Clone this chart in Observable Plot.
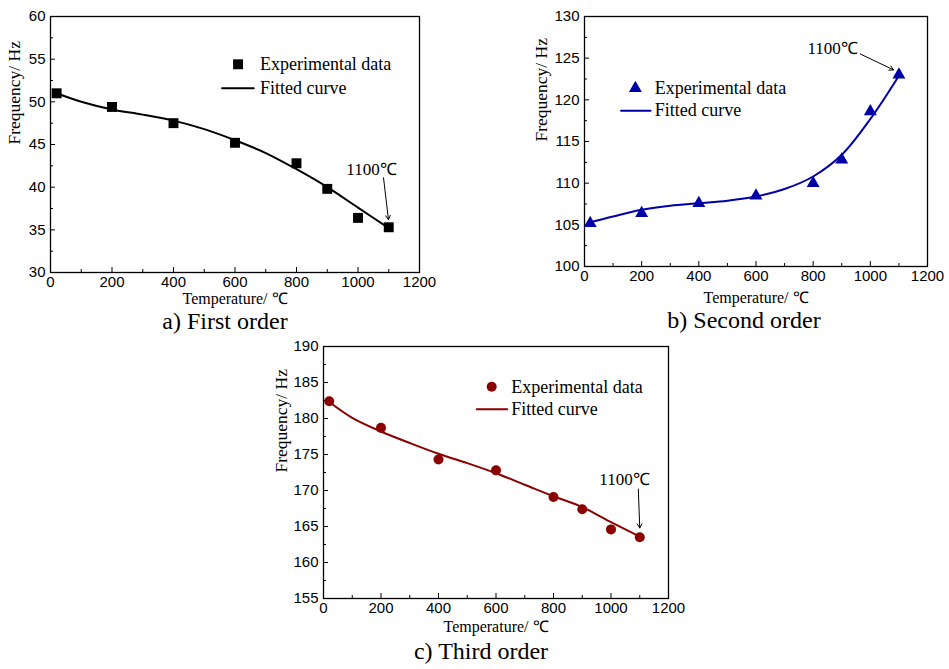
<!DOCTYPE html>
<html><head><meta charset="utf-8">
<script src="https://cdn.jsdelivr.net/npm/d3@7"></script>
<script src="https://cdn.jsdelivr.net/npm/@observablehq/plot@0.6"></script>
<style>
body{margin:0;background:#fff}
#wrap{position:relative;width:949px;height:669px;background:#fff;overflow:hidden}
#wrap svg{position:absolute;background:transparent}
</style></head>
<body><div id="wrap"></div>
<script>
// ---- data ----
const temps = [20, 200, 400, 600, 800, 900, 1000, 1100];
const freq1 = [51.0, 49.4, 47.5, 45.2, 42.8, 39.8, 36.4, 35.3];
const freq2 = [105.2, 106.4, 107.6, 108.5, 110.0, 112.8, 118.6, 123.0];
const freq3 = [182.4, 178.7, 174.3, 172.8, 169.1, 167.4, 164.6, 163.5];
const fitT = [20, 100, 200, 300, 400, 500, 600, 700, 800, 900, 1000, 1100];
const fit1 = [51.0, 50.0, 49.1, 48.5, 47.8, 46.8, 45.5, 44.0, 42.1, 40.0, 37.6, 35.2];
const fit2 = [105.3, 106.0, 106.8, 107.3, 107.6, 107.9, 108.4, 109.3, 110.8, 113.4, 117.7, 122.9];
const fit3 = [182.3, 180.1, 178.2, 176.6, 175.1, 173.8, 172.4, 170.8, 169.2, 167.7, 165.6, 163.6];
const xTicks = [0, 200, 400, 600, 800, 1000, 1200];
const xMinor = [100, 300, 500, 700, 900, 1100];
const yTicks1 = [30, 35, 40, 45, 50, 55, 60];
const yTicks2 = [100, 105, 110, 115, 120, 125, 130];
const yTicks3 = [155, 160, 165, 170, 175, 180, 185, 190];
const captions = ["a) First order", "b) Second order", "c) Third order"];
const xTitle = "Temperature/ ℃";
const yTitle = "Frequency/ Hz";
const legendLabels = ["Experimental data", "Fitted curve"];
const annotLabel = "1100℃";
// annotation anchors (data coords): text x, text y, arrow x1, y1, x2, y2
const annot1 = [1044, 42.1, 1083, 41.1, 1099, 36.2];
const annot2 = [868, 126.1, 965, 125.5, 1081, 123.6];
const annot3 = [1047, 171.5, 1095, 170.2, 1100, 164.8];
// legend anchors (data coords): marker x, marker y, text x, line x1, line x2, line y
const leg1 = [610, 54.4, 681, 558, 661, 51.6];
const leg2 = [178, 121.4, 246, 128, 231, 118.7];
const leg3 = [585, 184.4, 653, 533, 639, 181.3];

const serif = "'Liberation Serif', 'Times New Roman', serif";
const sans = "'Liberation Sans', Arial, sans-serif";

function minorOf(ticks) {
  const out = [];
  for (let i = 0; i < ticks.length - 1; i++) out.push((ticks[i] + ticks[i + 1]) / 2);
  return out;
}

function panel(cfg) {
  const fw = cfg.width - cfg.ml - cfg.mr;
  const fh = cfg.height - cfg.mt - cfg.mb;
  const pts = temps.map((t, i) => ({t, f: cfg.freq[i]}));
  const fit = fitT.map((t, i) => ({t, f: cfg.fit[i]}));
  const L = cfg.leg, A = cfg.annot;
  const yDomain = [cfg.yTicks[0], cfg.yTicks[cfg.yTicks.length - 1]];
  const st = {fontFamily: serif, fill: "black"};
  const svg = Plot.plot({
    width: cfg.width, height: cfg.height,
    marginLeft: cfg.ml, marginRight: cfg.mr, marginTop: cfg.mt, marginBottom: cfg.mb,
    x: {domain: [0, 1200]},
    y: {domain: yDomain},
    style: {fontFamily: sans, fontSize: "15px", color: "black", background: "transparent", overflow: "visible"},
    marks: [
      Plot.axisX({ticks: xTicks, tickFormat: d3.format("d"), tickSize: 0, tickPadding: 4, label: null, fontSize: 15, fontFamily: sans}),
      Plot.axisY({ticks: cfg.yTicks, tickFormat: d3.format("d"), tickSize: 0, tickPadding: 5, label: null, fontSize: 15, fontFamily: sans}),
      Plot.ruleX(xTicks.slice(1, -1), {insetTop: fh - 5, stroke: "black", strokeWidth: 1}),
      Plot.ruleX(xMinor, {insetTop: fh - 3, stroke: "black", strokeWidth: 1}),
      Plot.ruleY(cfg.yTicks.slice(1, -1), {insetRight: fw - 5, stroke: "black", strokeWidth: 1}),
      Plot.ruleY(minorOf(cfg.yTicks), {insetRight: fw - 3, stroke: "black", strokeWidth: 1}),
      Plot.frame({stroke: "black", strokeWidth: 1.3}),
      Plot.line(fit, {x: "t", y: "f", stroke: cfg.color, strokeWidth: 2, curve: "catmull-rom"}),
      Plot.dot(pts, {x: "t", y: "f", symbol: cfg.symbol, fill: cfg.color, stroke: "none", r: cfg.r}),
      // legend
      Plot.dot([{x: L[0], y: L[1]}], {x: "x", y: "y", symbol: cfg.symbol, fill: cfg.color, stroke: "none", r: cfg.r}),
      Plot.text([legendLabels[0]], {x: L[2], y: L[1], textAnchor: "start", fontSize: 18, ...st}),
      Plot.line([{x: L[3], y: L[5]}, {x: L[4], y: L[5]}], {x: "x", y: "y", stroke: cfg.color, strokeWidth: 2}),
      Plot.text([legendLabels[1]], {x: L[2], y: L[5], textAnchor: "start", fontSize: 18, ...st}),
      // annotation
      Plot.text([annotLabel], {x: A[0], y: A[1], fontSize: 17, ...st}),
      Plot.arrow([{x1: A[2], y1: A[3], x2: A[4], y2: A[5]}], {x1: "x1", y1: "y1", x2: "x2", y2: "y2", stroke: "black", strokeWidth: 1, headLength: 7}),
      // titles
      Plot.text([xTitle], {frameAnchor: "bottom", dy: cfg.xtDy, fontSize: 16, ...st}),
      Plot.text([yTitle], {frameAnchor: "left", dx: cfg.ytDx, rotate: -90, fontSize: 17.5, ...st}),
      Plot.text([cfg.caption], {frameAnchor: "bottom", dy: cfg.capDy, dx: cfg.capDx, fontSize: 24, ...st})
    ]
  });
  svg.style.left = cfg.left + "px";
  svg.style.top = cfg.top + "px";
  return svg;
}

const wrap = document.getElementById("wrap");
wrap.appendChild(panel({
  left: 0, top: 0, width: 440, height: 340, ml: 50, mr: 21, mt: 16, mb: 68,
  freq: freq1, fit: fit1, yTicks: yTicks1, color: "black", symbol: "square", r: 5.6,
  leg: leg1, annot: annot1, caption: captions[0], xtDy: 31, ytDx: -36, capDy: 56, capDx: -10
}));
wrap.appendChild(panel({
  left: 480, top: 0, width: 469, height: 340, ml: 104, mr: 22, mt: 16, mb: 74,
  freq: freq2, fit: fit2, yTicks: yTicks2, color: "#0000a8", symbol: "triangle", r: 4.8,
  leg: leg2, annot: annot2, caption: captions[1], xtDy: 36, ytDx: -43, capDy: 61, capDx: -12
}));
wrap.appendChild(panel({
  left: 260, top: 330, width: 430, height: 339, ml: 63, mr: 22, mt: 16, mb: 71,
  freq: freq3, fit: fit3, yTicks: yTicks3, color: "#8b0000", symbol: "circle", r: 5,
  leg: leg3, annot: annot3, caption: captions[2], xtDy: 33, ytDx: -42, capDy: 60, capDx: -15
}));
</script></body></html>
